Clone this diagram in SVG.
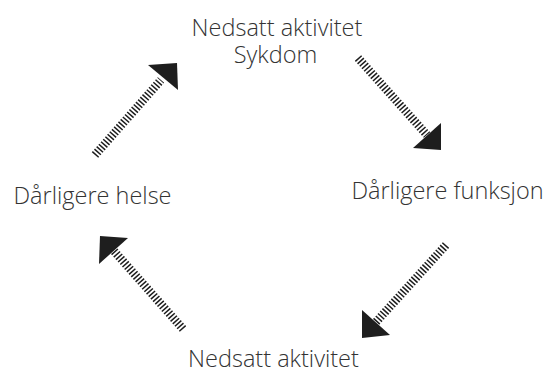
<svg xmlns="http://www.w3.org/2000/svg" width="547" height="372" viewBox="0 0 547 372">
<style>
.lbl{font-family:"Open Sans","Liberation Sans",sans-serif;font-weight:300;font-size:23.5px;fill:#333333;text-anchor:middle}
.shaft{stroke:#1e1e1e;stroke-width:8.5;stroke-dasharray:1.5 1.8;fill:none}
.head{fill:#1e1e1e}
</style>
<rect width="547" height="372" fill="#ffffff"/>
<g id="node-top"><text class="lbl" x="277" y="36">Nedsatt aktivitet</text><text class="lbl" x="275.5" y="63">Sykdom</text></g>
<g id="node-right"><text class="lbl" x="447.5" y="199">Dårligere funksjon</text></g>
<g id="node-bottom"><text class="lbl" x="273.5" y="367">Nedsatt aktivitet</text></g>
<g id="node-left"><text class="lbl" x="92.5" y="204">Dårligere helse</text></g>
<g id="connectors">
<line class="shaft" x1="95" y1="155" x2="161" y2="80"/>
<polygon class="head" points="148,65 177,63 178,90"/>
<line class="shaft" x1="358" y1="58" x2="427" y2="135"/>
<polygon class="head" points="413,148 441,123 441,150"/>
<line class="shaft" x1="446" y1="245" x2="376" y2="322"/>
<polygon class="head" points="362,310 362,338 390,335"/>
<line class="shaft" x1="183" y1="329" x2="114" y2="251"/>
<polygon class="head" points="100,236 128,238 99,264"/>
</g>
</svg>
